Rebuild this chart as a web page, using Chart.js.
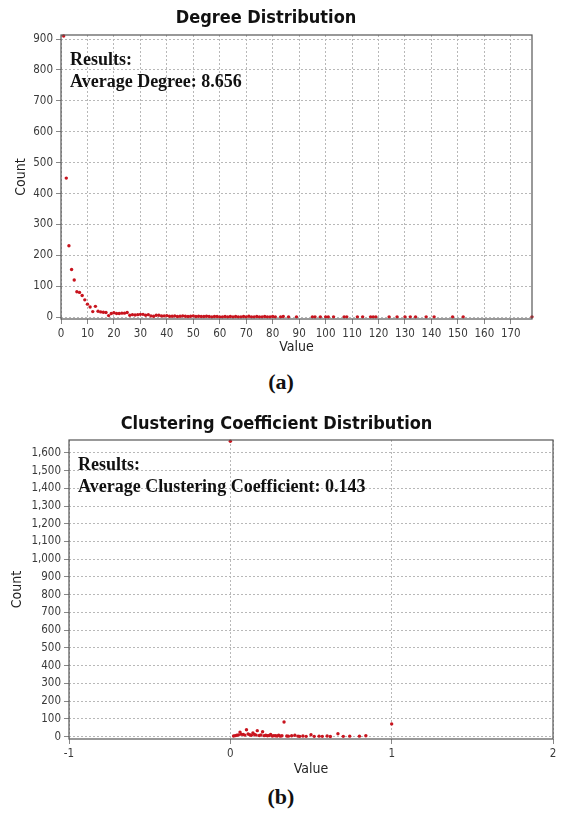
<!DOCTYPE html>
<html>
<head>
<meta charset="utf-8">
<script src="https://cdn.jsdelivr.net/npm/chart.js@4.4.0/dist/chart.umd.min.js"></script>
<style>
  body { margin: 0; background: #fff; width: 562px; height: 815px; position: relative; overflow: hidden; }
  canvas { position: absolute; left: 0; }
  .note { position: absolute; font-family: "Liberation Serif", "Times New Roman", serif; font-weight: bold; font-size: 18px; line-height: 22px; color: #111; white-space: nowrap; }
  .cap { position: absolute; left: 0; width: 562px; text-align: center; font-family: "Liberation Serif", serif; font-weight: bold; font-size: 22px; line-height: 26px; color: #111; }
</style>
</head>
<body>
<canvas id="degChart" width="562" height="357" style="top:0"></canvas>
<div class="note" style="left:70px; top:48px">Results:<br>Average Degree: 8.656</div>
<div class="cap" style="top:369px">(a)</div>

<canvas id="ccChart" width="562" height="379" style="top:400px"></canvas>
<div class="note" style="left:78px; top:453px">Results:<br>Average Clustering Coefficient: 0.143</div>
<div class="cap" style="top:784px">(b)</div>

<script>
// degree distribution
const degValues = [1, 2, 3, 4, 5, 6, 7, 8, 9, 10, 11, 12, 13, 14, 15, 16, 17, 18, 19, 20,
    21, 22, 23, 24, 25, 26, 27, 28, 29, 30, 31, 32, 33, 34, 35, 36, 37, 38, 39, 40,
    41, 42, 43, 44, 45, 46, 47, 48, 49, 50, 51, 52, 53, 54, 55, 56, 57, 58, 59, 60,
    61, 62, 63, 64, 65, 66, 67, 68, 69, 70, 71, 72, 73, 74, 75, 76, 77, 78, 79, 80,
    81, 83, 84, 86, 89, 95, 96, 98, 100, 101, 103, 107, 108, 112, 114, 117, 118, 119,
    124, 127, 130, 132, 134, 138, 141, 148, 152, 178];
const degCounts = [910, 450, 231, 154, 120, 82, 80, 70, 56, 42, 33, 18, 35, 19, 17, 16, 15, 5, 12, 14,
    12, 12, 13, 13, 15, 6, 8, 7, 8, 9, 9, 6, 8, 4, 3, 6, 6, 4, 4, 5,
    3, 3, 4, 2, 3, 4, 3, 2, 3, 4, 2, 3, 2, 2, 3, 2, 1, 2, 2, 1,
    1, 2, 1, 2, 1, 2, 1, 1, 2, 1, 3, 1, 1, 2, 1, 1, 2, 1, 1, 2,
    1, 1, 2, 1, 1, 1, 1, 1, 1, 1, 1, 1, 1, 1, 1, 1, 1, 1,
    1, 1, 1, 1, 1, 1, 1, 1, 1, 1];
const degXTicks = [0, 10, 20, 30, 40, 50, 60, 70, 80, 90, 100, 110, 120, 130, 140, 150, 160, 170];
const degYTicks = [0, 100, 200, 300, 400, 500, 600, 700, 800, 900];

// clustering coefficient distribution
const ccValues = [0, 0.02, 0.03, 0.04, 0.05, 0.06, 0.067, 0.08, 0.09, 0.1, 0.11, 0.12, 0.13, 0.14,
    0.15, 0.16, 0.167, 0.18, 0.19, 0.2, 0.21, 0.22, 0.23, 0.24, 0.25, 0.26, 0.27, 0.28, 0.29,
    0.3, 0.31, 0.32, 0.333, 0.35, 0.36, 0.38, 0.4, 0.42, 0.43, 0.45, 0.47, 0.5, 0.52, 0.55,
    0.57, 0.6, 0.62, 0.667, 0.7, 0.74, 0.8, 0.84, 1];
const ccCounts = [1665, 4, 6, 8, 10, 26, 14, 12, 9, 39, 15, 11, 8, 21,
    12, 9, 34, 7, 10, 28, 6, 8, 5, 7, 12, 4, 6, 5, 4,
    9, 3, 5, 83, 4, 3, 5, 8, 3, 2, 4, 2, 11, 2, 3,
    2, 4, 1, 17, 2, 3, 3, 5, 72];
const ccXTicks = [-1, 0, 1, 2];
const ccYTicks = [0, 100, 200, 300, 400, 500, 600, 700, 800, 900, 1000, 1100, 1200, 1300, 1400, 1500, 1600];

const sansFam = '"DejaVu Sans Condensed", "DejaVu Sans", sans-serif';

const plotFrame = {
    id: 'plotFrame',
    afterDatasetsDraw(chart) {
        const { ctx, chartArea: a } = chart;
        ctx.save();
        ctx.strokeStyle = '#555';
        ctx.lineWidth = 1.2;
        ctx.strokeRect(a.left, a.top, a.right - a.left, a.bottom - a.top);
        ctx.restore();
    }
};

function makeScale(ticks, min, max, title, fit, titlePad, fmt) {
    return {
        type: 'linear',
        min: min,
        max: max,
        afterBuildTicks: s => { s.ticks = ticks.map(v => ({ value: v })); },
        afterFit: fit,
        grid: { color: '#b8b8b8', lineWidth: 1, tickLength: 5, tickColor: '#888', tickBorderDash: [] },
        border: { display: false, dash: [2, 2] },
        ticks: {
            font: { family: sansFam, size: 11.5 },
            color: '#3a3a3a',
            padding: 3,
            maxRotation: 0,
            autoSkip: false,
            callback: fmt || (v => v)
        },
        title: { display: true, text: title, font: { family: sansFam, size: 14 }, color: '#222', padding: titlePad }
    };
}

function drawChart(id, title, xs, ys, xScale, yScale, padRight, titlePad) {
    new Chart(document.getElementById(id), {
        type: 'scatter',
        data: {
            datasets: [{
                data: xs.map((v, i) => ({ x: v, y: ys[i] })),
                backgroundColor: '#c8141e',
                borderWidth: 0,
                pointRadius: 1.7,
                clip: false
            }]
        },
        options: {
            responsive: false,
            animation: false,
            devicePixelRatio: 1,
            layout: { padding: { left: 0, right: padRight, top: 0, bottom: 0 } },
            plugins: {
                legend: { display: false },
                tooltip: { enabled: false },
                title: {
                    display: true,
                    text: title,
                    font: { family: sansFam, size: 18, weight: 'bold' },
                    color: '#111',
                    padding: titlePad
                }
            },
            scales: { x: xScale, y: yScale }
        },
        plugins: [plotFrame]
    });
}

drawChart('degChart', 'Degree Distribution', degValues, degCounts,
    makeScale(degXTicks, 0, 178, 'Value', s => { s.height = 38; }, { top: 0, bottom: 1 }),
    makeScale(degYTicks, -6, 913, 'Count', s => { s.width = 61; }, { top: 13, bottom: 0 }),
    30, { top: 8, bottom: 5.4 });

drawChart('ccChart', 'Clustering Coefficient Distribution', ccValues, ccCounts,
    makeScale(ccXTicks, -1, 2, 'Value', s => { s.height = 40; }, { top: 0, bottom: 1 }),
    makeScale(ccYTicks, -13, 1672, 'Count', s => { s.width = 69; }, { top: 9, bottom: 0 },
        v => v.toLocaleString('en-US')),
    9, { top: 14, bottom: 4.4 });
</script>
</body>
</html>
